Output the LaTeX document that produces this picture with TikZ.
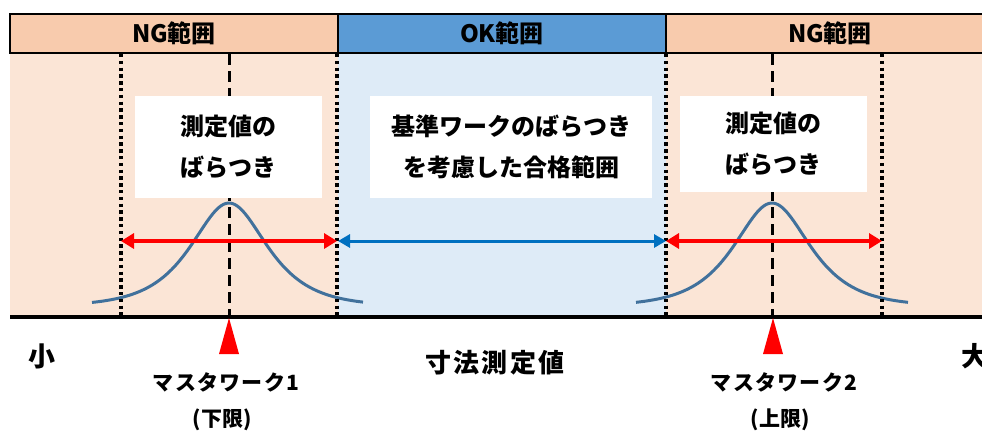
\documentclass[tikz,border=0pt]{standalone}
\usepackage{fontspec}
\setmainfont{Noto Sans CJK JP}
\usetikzlibrary{arrows.meta}
\definecolor{hdrpeach}{HTML}{F8CBAD}
\definecolor{hdrblue}{HTML}{5B9BD5}
\definecolor{bgpeach}{HTML}{FBE5D6}
\definecolor{bgblue}{HTML}{DEEBF7}
\definecolor{curveblue}{HTML}{41719C}
\definecolor{arrowblue}{HTML}{0070C0}
\definecolor{arrowred}{HTML}{FF0000}
\tikzset{
  hdr/.style={draw=black, line width=2pt, minimum width=328pt, minimum height=39pt, inner sep=0pt,
    font=\bfseries\fontsize{24}{24}\selectfont},
  region/.style={draw=none, minimum width=328pt, minimum height=263pt, inner sep=0pt},
  dotline/.style={line width=3.6pt, dash pattern=on 3.4pt off 3.4pt},
  dashline/.style={line width=3pt, dash pattern=on 11pt off 6pt},
  bell/.style={draw=curveblue, line width=3pt},
  redarrow/.style={draw=arrowred, line width=4pt,
    {Triangle[length=13pt,width=15pt]}-{Triangle[length=13pt,width=15pt]}},
  bluearrow/.style={draw=arrowblue, line width=3pt,
    {Triangle[length=12pt,width=13pt]}-{Triangle[length=12pt,width=13pt]}},
  whitebox/.style={fill=white, inner sep=0pt, align=center,
    font=\bfseries\fontsize{24}{41}\selectfont},
  lbl/.style={inner sep=0pt, anchor=center, font=\bfseries\fontsize{21}{21}\selectfont\addfontfeature{LetterSpace=6}},
  plbl/.style={inner sep=0pt, anchor=center, font=\bfseries\fontsize{21}{21}\selectfont},
  endlbl/.style={inner sep=0pt, anchor=center, font=\bfseries\fontsize{27}{27}\selectfont},
  axislbl/.style={inner sep=0pt, anchor=center, font=\bfseries\fontsize{26}{26}\selectfont\addfontfeature{LetterSpace=8}},
  marker/.style={fill=arrowred, draw=none}
}
\begin{document}
\begin{tikzpicture}[x=1pt,y=-1pt]
\clip (0,0) rectangle (982,432);
\fill[white] (0,0) rectangle (982,432);
% background regions
\node[region, fill=bgpeach] (rL) at (174,184.5) {};
\node[region, fill=bgblue] (rM) at (502,184.5) {};
\node[region, fill=bgpeach] (rR) at (830,184.5) {};
% header
\node[hdr, fill=hdrpeach] (hL) at (174,33.5) {NG範囲};
\node[hdr, fill=hdrblue] (hM) at (502,33.5) {OK範囲};
\node[hdr, fill=hdrpeach] (hR) at (830,33.5) {NG範囲};
% bell curves
\draw[bell] plot[domain=-137:134, samples=120] ({229+\x},{306-103/cosh(\x/33.8)});
\draw[bell] plot[domain=-136:136, samples=120] ({772+\x},{306-103/cosh(\x/33.8)});
% dashed centre lines
\coordinate (c1t) at (229,54); \coordinate (c1b) at (229,316);
\coordinate (c2t) at (772,54); \coordinate (c2b) at (772,316);
\draw[dashline] (c1t) -- (c1b);
\draw[dashline] (c2t) -- (c2b);
% dotted limit lines
\coordinate (d1t) at (121,54); \coordinate (d1b) at (121,315);
\coordinate (d2t) at (337,54); \coordinate (d2b) at (337,315);
\coordinate (d3t) at (666,54); \coordinate (d3b) at (666,315);
\coordinate (d4t) at (882,54); \coordinate (d4b) at (882,315);
\draw[dotline] (d1t) -- (d1b);
\draw[dotline] (d2t) -- (d2b);
\draw[dotline] (d3t) -- (d3b);
\draw[dotline] (d4t) -- (d4b);
% white text boxes
\node[whitebox, minimum width=187pt, minimum height=102pt] (bL) at (228.5,147) {測定値の\\ばらつき};
\node[whitebox, minimum width=282pt, minimum height=102pt] (bM) at (511,147) {基準ワークのばらつき\\を考慮した合格範囲};
\node[whitebox, minimum width=187pt, minimum height=96pt] (bR) at (773.5,144) {測定値の\\ばらつき};
% arrows
\coordinate (a1) at (121,241); \coordinate (a2) at (337,241);
\coordinate (a2b) at (338,241);
\coordinate (a3) at (666,241); \coordinate (a4) at (882,241);
\draw[redarrow] (a1) -- (a2);
\draw[bluearrow] (a2b) -- (a3);
\draw[redarrow] (a3) -- (a4);
% axis
\coordinate (ax0) at (10,317); \coordinate (ax1) at (982,317);
\draw[line width=4pt] (ax0) -- (ax1);
% markers
\fill[marker] (229,318) -- (219,354) -- (239,354) -- cycle;
\fill[marker] (773,318) -- (763,354) -- (783,354) -- cycle;
% labels
\node[endlbl] (small) at (42,356) {小};
\node[endlbl] (large) at (975,356) {大};
\node[axislbl] (axis) at (495,363) {寸法測定値};
\node[lbl] (m1) at (226,382) {マスタワーク1};
\node[plbl] (m1b) at (222,420) {(下限)};
\node[lbl] (m2) at (784,382) {マスタワーク2};
\node[plbl] (m2b) at (780,420) {(上限)};
\end{tikzpicture}
\end{document}
